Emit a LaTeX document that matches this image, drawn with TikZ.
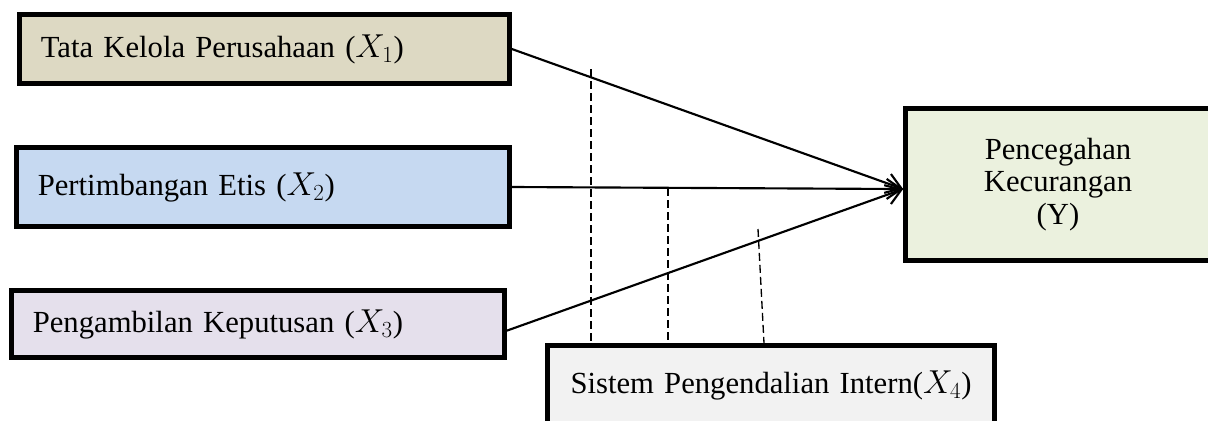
\documentclass[tikz,border=0pt]{standalone}
\usepackage{fontspec}
\setmainfont{Liberation Serif}
\usetikzlibrary{arrows.meta}

\definecolor{tataFill}{HTML}{DDD9C3}
\definecolor{etisFill}{HTML}{C6D9F1}
\definecolor{kepFill}{HTML}{E5E0EC}
\definecolor{spiFill}{HTML}{F2F2F2}
\definecolor{cegahFill}{HTML}{EBF1DE}

\tikzset{every picture/.style={line width=0.75pt}}

\begin{document}
\begin{tikzpicture}[x=0.75pt,y=0.75pt,yscale=-1,xscale=1,
  varbox/.style={draw, line width=3.5pt, inner xsep=16pt, inner ysep=0pt,
    font=\fontsize{23}{24.5}\selectfont},
  pengaruh/.style={line width=1.6pt, -{Straight Barb[length=11pt,width=15pt,line width=1.6pt]}},
  moderasi/.style={line width=1pt, dash pattern=on 6pt off 3pt}]
\useasboundingbox (0,0) rectangle (1208,421);
\clip (0,0) rectangle (1208,421);

%Variabel bebas
\node [varbox, fill=tataFill, text width=335.5pt, minimum height=51.75pt, align=left] (x1) at (264.5,49) {Tata Kelola Perusahaan ($X_1$)};
\node [varbox, fill=etisFill, text width=337.75pt, minimum height=59.25pt, align=left] (x2) at (263,187) {Pertimbangan Etis ($X_2$)};
\node [varbox, fill=kepFill, text width=337.75pt, minimum height=50.25pt, align=left] (x3) at (258,324) {Pengambilan Keputusan ($X_3$)};
%Variabel moderasi
\node [varbox, fill=spiFill, text width=303.25pt, minimum height=59.25pt, align=center] (x4) at (771,385) {Sistem Pengendalian Intern($X_4$)};
%Variabel terikat
\node [varbox, fill=cegahFill, text width=196.75pt, minimum height=114pt, align=center] (y) at (1058,184.5) {Pencegahan\\Kecurangan\\(Y)};

%Panah
\coordinate (tip) at ([yshift=3.4pt]y.west);
\draw [pengaruh] (x1.east) -- (tip);
\draw [pengaruh] (x2.east) -- (tip);
\draw [pengaruh] ([yshift=5pt]x3.east) -- (tip);

%Garis putus-putus
\coordinate (m1) at (591,69);
\coordinate (m2) at (668,188);
\coordinate (m3) at (758,229);
\coordinate (n3) at (764,0);
\draw [moderasi] (m1) -- (m1 |- x4.north);
\draw [moderasi] (m2) -- (m2 |- x4.north);
\draw [moderasi] (m3) -- (n3 |- x4.north);

\end{tikzpicture}
\end{document}
